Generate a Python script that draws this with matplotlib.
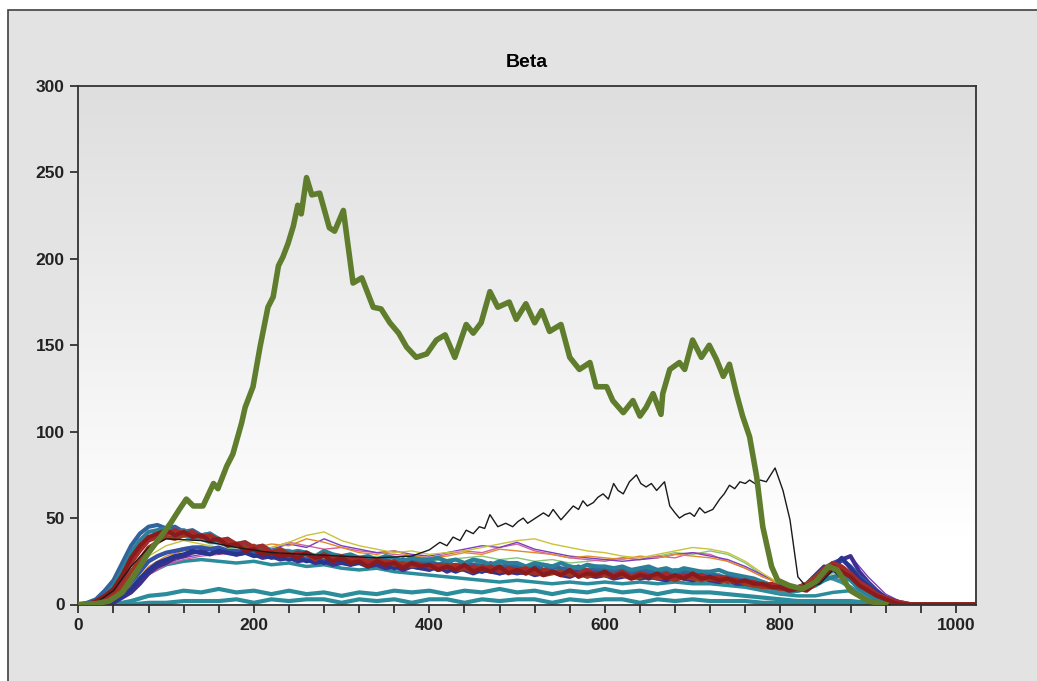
import matplotlib.pyplot as plt
import numpy as np
from matplotlib.patches import Rectangle
from matplotlib.ticker import MultipleLocator, FuncFormatter

plt.rcParams['font.family'] = ['Liberation Sans', 'DejaVu Sans']

# channel axes for the background traces
x_fine = np.arange(0, 1030, 10)    # 0..1020, step 10
x_grid = np.arange(0, 1040, 20)    # 0..1020, step 20

# heavy background traces, step 10
red_a = [0, 0, 2, 5, 9, 17, 27, 34, 39, 41,
         43, 40, 42, 39, 40, 37, 38, 34, 35, 31,
         32, 29, 30, 28, 29, 27, 30, 27, 28, 25,
         27, 24, 25, 22, 25, 23, 24, 21, 24, 22,
         23, 20, 22, 20, 23, 19, 21, 19, 22, 18,
         20, 18, 21, 17, 19, 17, 20, 16, 18, 17,
         19, 16, 18, 15, 17, 16, 18, 15, 17, 15,
         18, 15, 16, 14, 15, 13, 14, 12, 12, 10,
         10, 8, 9, 8, 12, 17, 22, 19, 16, 11,
         8, 5, 3, 1, 0, 0, 0, 0, 0, 0,
         0, 0, 0]
red_b = [0, 0, 1, 4, 7, 14, 24, 31, 37, 39,
         41, 43, 41, 42, 39, 40, 37, 38, 35, 36,
         33, 34, 30, 31, 28, 30, 29, 26, 29, 27,
         28, 26, 27, 25, 26, 24, 25, 22, 24, 23,
         22, 23, 21, 23, 21, 22, 20, 22, 19, 21,
         20, 21, 18, 20, 19, 17, 19, 18, 20, 17,
         18, 17, 19, 16, 18, 17, 16, 18, 15, 17,
         16, 17, 15, 16, 15, 14, 13, 13, 11, 12,
         10, 9, 9, 11, 14, 20, 24, 22, 18, 13,
         10, 6, 4, 2, 1, 0, 0, 0, 0, 0,
         0, 0, 0]
red_c = [0, 0, 1, 3, 5, 11, 19, 26, 33, 36,
         39, 38, 40, 41, 39, 40, 37, 36, 35, 33,
         34, 31, 30, 32, 29, 28, 30, 27, 29, 26,
         27, 25, 26, 24, 26, 25, 23, 24, 22, 23,
         22, 21, 23, 20, 21, 19, 22, 20, 21, 19,
         20, 18, 19, 17, 18, 19, 17, 18, 16, 18,
         17, 16, 17, 15, 16, 17, 15, 16, 14, 16,
         15, 14, 15, 14, 13, 14, 12, 11, 10, 10,
         9, 10, 10, 12, 16, 21, 24, 21, 17, 12,
         9, 6, 3, 1, 0, 0, 0, 0, 0, 0,
         0, 0, 0]
navy = [0, 0, 0, 1, 2, 5, 9, 15, 20, 24,
        26, 28, 29, 31, 30, 29, 31, 30, 29, 30,
        28, 29, 27, 28, 26, 27, 25, 26, 24, 26,
        25, 23, 24, 22, 24, 23, 21, 23, 22, 21,
        22, 20, 21, 19, 21, 20, 19, 21, 18, 20,
        19, 18, 20, 17, 19, 18, 17, 19, 17, 18,
        17, 16, 18, 16, 17, 15, 17, 16, 15, 17,
        16, 15, 16, 14, 15, 14, 13, 12, 12, 11,
        10, 9, 10, 9, 13, 19, 22, 27, 21, 15,
        11, 7, 4, 2, 1, 0, 0, 0, 0, 0,
        0, 0, 0]
indigo = [0, 0, 0, 0, 1, 4, 7, 12, 18, 22,
          24, 27, 28, 30, 31, 32, 30, 31, 29, 30,
          29, 27, 28, 26, 27, 25, 26, 24, 25, 23,
          24, 23, 25, 22, 23, 21, 22, 20, 22, 21,
          20, 22, 19, 21, 20, 18, 20, 19, 18, 19,
          18, 19, 17, 18, 19, 17, 16, 18, 17, 16,
          17, 15, 16, 17, 15, 16, 15, 14, 16, 15,
          14, 15, 14, 13, 14, 12, 12, 11, 11, 10,
          9, 9, 10, 12, 17, 22, 20, 26, 28, 19,
          13, 8, 4, 2, 0, 0, 0, 0, 0, 0,
          0, 0, 0]
steel = [0, 1, 3, 8, 14, 24, 34, 41, 45, 46,
         44, 45, 42, 43, 40, 41, 37, 38, 34, 35,
         31, 32, 30, 31, 28, 30, 29, 27, 29, 28,
         27, 28, 26, 27, 25, 26, 24, 26, 25, 24,
         25, 23, 24, 22, 24, 23, 22, 24, 21, 23,
         22, 21, 23, 20, 22, 21, 20, 22, 19, 21,
         20, 19, 21, 18, 20, 19, 18, 20, 17, 19,
         18, 17, 18, 16, 16, 15, 15, 13, 13, 11,
         11, 9, 9, 11, 13, 17, 20, 18, 15, 11,
         7, 4, 2, 1, 0, 0, 0, 0, 0, 0,
         0, 0, 0]
teal_a = [0, 0, 2, 5, 11, 20, 30, 37, 42, 43,
          44, 42, 43, 41, 40, 41, 38, 36, 35, 36,
          33, 34, 31, 32, 30, 31, 30, 28, 31, 29,
          28, 29, 27, 28, 26, 28, 27, 25, 27, 26,
          26, 27, 25, 26, 24, 26, 25, 23, 25, 24,
          24, 22, 24, 23, 22, 24, 22, 21, 23, 22,
          22, 21, 22, 20, 21, 22, 20, 21, 19, 21,
          20, 19, 19, 20, 18, 17, 16, 15, 13, 11,
          10, 8, 8, 9, 11, 14, 16, 17, 14, 9,
          6, 3, 1, 0, 0, 0, 0, 0, 0, 0,
          0, 0, 0]
teal_b = [0, 0, 1, 4, 8, 16, 25, 32, 38, 40,
          41, 39, 40, 38, 38, 36, 36, 34, 34, 33,
          32, 30, 30, 31, 31, 29, 29, 27, 28, 27,
          28, 26, 27, 25, 26, 24, 25, 26, 24, 25,
          24, 23, 25, 22, 24, 23, 24, 22, 23, 21,
          23, 22, 21, 23, 22, 20, 22, 21, 20, 22,
          21, 19, 21, 20, 19, 21, 19, 18, 20, 19,
          18, 19, 17, 17, 15, 14, 13, 12, 10, 9,
          7, 7, 8, 10, 13, 16, 15, 13, 10, 7,
          4, 2, 0, 0, 0, 0, 0, 0, 0, 0,
          0, 0, 0]
blue = [0, 0, 0, 1, 3, 7, 13, 19, 25, 28,
        30, 31, 32, 33, 33, 32, 33, 31, 31, 30,
        30, 31, 29, 28, 27, 28, 26, 27, 25, 26,
        25, 24, 26, 23, 25, 24, 23, 24, 22, 23,
        23, 21, 22, 20, 22, 21, 19, 21, 20, 22,
        21, 19, 20, 18, 20, 19, 18, 20, 17, 19,
        18, 17, 19, 16, 18, 17, 16, 18, 16, 17,
        17, 15, 17, 15, 14, 13, 13, 12, 11, 11,
        10, 10, 10, 11, 14, 19, 24, 26, 22, 16,
        12, 7, 4, 2, 0, 0, 0, 0, 0, 0,
        0, 0, 0]

# low and thin background traces, step 20
low_teal_1 = [0, 0, 0, 2, 5, 6, 8, 7, 9, 7, 8, 6, 8, 6, 7, 5, 7, 6, 8, 7, 8, 6, 8, 7, 9, 7,
              8, 6, 8, 7, 9, 7, 8, 6, 8, 7, 7, 6, 5, 4, 3, 2, 2, 2, 2, 1, 0, 0, 0, 0, 0, 0]
low_teal_2 = [0, 0, 0, 0, 1, 1, 2, 2, 2, 3, 1, 3, 2, 3, 3, 1, 3, 2, 3, 1, 3, 3, 1, 3, 2, 3,
              3, 1, 3, 2, 3, 3, 1, 3, 2, 3, 2, 2, 2, 1, 1, 1, 1, 1, 1, 0, 0, 0, 0, 0, 0, 0]
low_teal_3 = [0, 0, 1, 8, 18, 23, 25, 26, 25, 24, 25, 23, 24, 22, 23, 21, 20, 21, 19, 18, 17, 16, 15, 14, 13, 14,
              13, 12, 13, 12, 13, 12, 13, 12, 13, 12, 12, 11, 10, 8, 6, 5, 5, 7, 8, 4, 1, 0, 0, 0, 0, 0]
yellow = [0, 0, 3, 15, 28, 34, 37, 35, 33, 31, 30, 33, 36, 40, 42, 37, 34, 32, 30, 31, 29, 30, 31, 33, 35, 37,
          38, 35, 33, 31, 30, 28, 27, 29, 31, 33, 32, 30, 25, 18, 12, 9, 11, 16, 14, 6, 2, 0, 0, 0, 0, 0]
violet = [0, 0, 1, 8, 18, 24, 27, 29, 30, 28, 30, 32, 35, 33, 38, 34, 32, 30, 31, 29, 28, 30, 32, 34, 33, 36,
          32, 30, 28, 27, 26, 25, 26, 27, 29, 30, 28, 26, 22, 17, 12, 10, 14, 22, 28, 16, 6, 1, 0, 0, 0, 0]
pink = [0, 0, 1, 7, 17, 23, 26, 28, 29, 30, 31, 33, 36, 34, 32, 33, 31, 30, 29, 28, 27, 29, 31, 30, 33, 35,
        31, 29, 27, 26, 25, 27, 26, 28, 27, 30, 29, 25, 21, 16, 12, 10, 13, 19, 15, 7, 2, 0, 0, 0, 0, 0]
orange = [0, 0, 2, 10, 22, 28, 31, 33, 32, 31, 33, 35, 34, 38, 36, 33, 30, 29, 31, 28, 27, 28, 30, 29, 32, 31,
          30, 29, 27, 28, 27, 26, 28, 27, 29, 28, 27, 25, 21, 16, 12, 10, 13, 21, 18, 8, 3, 0, 0, 0, 0, 0]
light_green = [0, 0, 2, 11, 24, 30, 33, 34, 33, 32, 30, 31, 29, 30, 28, 27, 26, 28, 27, 26, 25, 26, 27, 28, 26, 27,
               25, 26, 24, 25, 26, 27, 26, 28, 30, 29, 31, 29, 24, 17, 11, 9, 12, 18, 15, 7, 2, 0, 0, 0, 0, 0]

# main trace (thick green)
green_x = [0, 20, 35, 50, 65, 80, 95, 105, 115, 123, 131, 142, 154, 159, 169, 176, 186, 190, 199, 207, 216,
           222, 228, 233, 239, 245, 250, 254, 260, 266, 275, 286, 292, 302, 313, 323, 336, 345, 355, 365, 374,
           385, 397, 408, 418, 429, 442, 450, 459, 469, 478, 491, 499, 510, 520, 528, 537, 550, 560, 571, 583,
           590, 602, 609, 621, 632, 640, 647, 655, 664, 666, 674, 685, 691, 700, 710, 719, 727, 735, 742, 750,
           757, 765, 773, 780, 790, 797, 810, 825, 840, 855, 865, 880, 900, 920]
green_y = [0, 0.5, 2, 7, 18, 30, 40, 47, 55, 61, 57, 57, 70, 67, 80, 87, 105, 114, 126, 149, 172,
           178, 196, 201, 209, 219, 231, 226, 247, 237, 238, 218, 216, 228, 186, 189, 172, 171, 163, 157, 149,
           143, 145, 153, 156, 143, 162, 157, 163, 181, 172, 175, 165, 174, 163, 170, 158, 162, 143, 136, 140,
           126, 126, 118, 111, 118, 109, 114, 122, 110, 122, 136, 140, 136, 153, 143, 150, 142, 132, 139, 122,
           109, 97, 74, 45, 22, 14, 11, 9, 13, 22, 20, 8, 2, 0]

# thin black trace
black_x = [0, 20, 40, 60, 80, 100, 140, 180, 220, 260, 300, 340, 380, 400, 412, 420, 427, 435, 442, 450, 457,
           463, 469, 478, 487, 495, 501, 507, 512, 518, 524, 530, 536, 541, 550, 557, 564, 570, 575, 580, 587,
           592, 598, 604, 610, 615, 621, 628, 636, 641, 647, 653, 659, 668, 674, 680, 685, 691, 697, 702, 708,
           714, 723, 731, 736, 742, 748, 754, 760, 765, 771, 777, 784, 789, 794, 803, 811, 820, 830, 845, 860,
           875, 890, 910, 925]
black_y = [0, 1, 8, 22, 33, 38, 37, 33, 30, 29, 28, 27, 28, 31.6, 36, 34, 39, 37, 43, 41, 45,
           44, 52, 45, 47, 45, 48, 50, 47, 49, 51, 53, 51, 55, 49, 53, 57, 55, 60, 57, 59,
           62, 64, 61, 70, 66, 64, 71, 75, 70, 68, 70, 66, 71, 57, 53, 50, 52, 53, 51, 56,
           53, 55, 61, 64, 69, 67, 71, 70, 72, 70, 72, 71, 75, 79, 66, 49, 16, 10, 12, 20,
           12, 5, 1, 0]

coarse_traces = [
    (low_teal_2, '#2b8c9c', 3.0),
    (low_teal_1, '#2b8c9c', 3.0),
    (low_teal_3, '#2b8c9c', 2.5),
    (light_green, '#86c47a', 1.0),
    (pink, '#d2609c', 1.0),
    (violet, '#7b3fbf', 1.0),
    (orange, '#e08a2a', 1.0),
    (yellow, '#c9c23a', 1.0),
]
fine_traces = [
    (indigo, '#3f2f8f', 3.0),
    (blue, '#3452a8', 3.0),
    (navy, '#28358f', 3.0),
    (teal_b, '#3a8fa3', 3.0),
    (steel, '#31639c', 3.0),
    (teal_a, '#2b7f96', 3.0),
    (red_c, '#9c3a22', 3.0),
    (red_b, '#a52a2a', 3.0),
    (red_a, '#8b1a1a', 3.0),
]

fig = plt.figure(figsize=(10.37, 6.81), dpi=100)
fig.patch.set_facecolor('white')
frame = Rectangle((8 / 1037, -0.1), 1.2, 1 - 10 / 681 + 0.1, transform=fig.transFigure,
                  facecolor='#e3e3e3', edgecolor='#404040', linewidth=1.2, zorder=-10)
fig.add_artist(frame)

ax = fig.add_axes([78.4 / 1037, 1 - 604.5 / 681, (976 - 78.4) / 1037, (604.5 - 86) / 681])
ax.set_zorder(1)
ax.set_facecolor('white')

# grey-to-white vertical wash behind the traces (row 0 = top of the plot)
level = np.linspace(300, 0, 300)
grey = np.clip(1.0 - (level - 40) / 260 * 0.13, 0.87, 1.0)
wash = np.dstack([grey, grey, grey]).reshape(-1, 1, 3)
ax.imshow(wash, aspect='auto', extent=(0, 1023, 0, 300), origin='upper', zorder=0)

for values, colour, width in coarse_traces:
    ax.plot(x_grid, values, color=colour, linewidth=width, solid_joinstyle='round', zorder=2)
for values, colour, width in fine_traces:
    ax.plot(x_fine, values, color=colour, linewidth=width, solid_joinstyle='round', zorder=2)

ax.plot(black_x, black_y, color='#1a1a1a', linewidth=1.0, zorder=3)
ax.plot(green_x, green_y, color='#5f7d2d', linewidth=4.0, solid_joinstyle='round', zorder=4)

ax.set_xlim(0, 1023)
ax.set_ylim(0, 300)
ax.xaxis.set_major_locator(MultipleLocator(40))
ax.xaxis.set_major_formatter(FuncFormatter(lambda v, p: f'{int(v)}' if int(v) % 200 == 0 else ''))
ax.yaxis.set_major_locator(MultipleLocator(50))
ax.tick_params(direction='out', length=6, width=1.2, colors='#222222', labelsize=12.5, pad=4)
for lbl in ax.get_xticklabels() + ax.get_yticklabels():
    lbl.set_fontweight('bold')
for sp in ax.spines.values():
    sp.set_color('#333333')
    sp.set_linewidth(1.3)

ax.set_title('Beta', fontsize=14, fontweight='bold', pad=14)

plt.savefig('out.png', dpi=100)
